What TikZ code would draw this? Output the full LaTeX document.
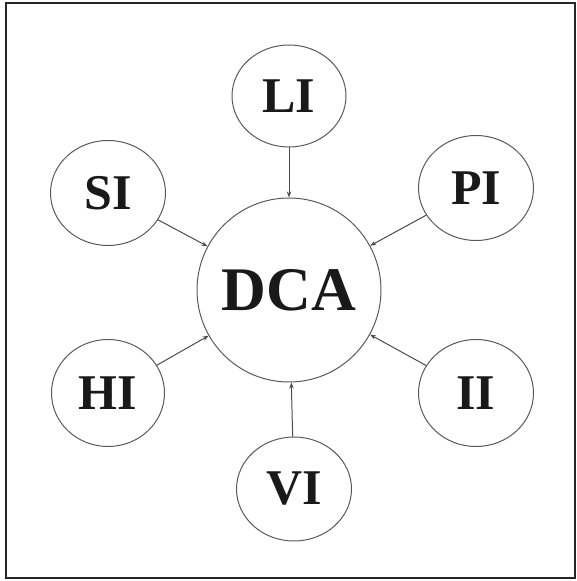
\documentclass[tikz,border=0pt]{standalone}
\usepackage{fontspec}
\setmainfont{Liberation Serif}[BoldFont={Liberation Serif Bold}]
\usetikzlibrary{shapes.geometric,arrows.meta}
\begin{document}
\begin{tikzpicture}[x=1pt,y=1pt,
  sat/.style={draw=black!65,line width=1pt,ellipse,inner sep=0pt,
    font=\fontsize{50}{52}\selectfont\bfseries,text=black!90},
  hub/.style={draw=black!65,line width=1pt,circle,inner sep=0pt,minimum size=184pt,
    font=\fontsize{62}{64}\selectfont\bfseries,text=black!90},
  arr/.style={draw=black!70,line width=1pt,-{Stealth[length=6pt,width=4.5pt]}}]
\useasboundingbox (0,0) rectangle (576,581);
\draw[line width=2.2pt,draw=black!85] (6,3) rectangle (575,578);
\node[hub] (DCA) at (289,291) {DCA};
\node[sat,minimum width=114pt,minimum height=102pt] (LI) at (289,485) {LI};
\node[sat,minimum width=115pt,minimum height=105pt] (SI) at (108,388) {SI};
\node[sat,minimum width=115pt,minimum height=105pt] (PI) at (476,393) {PI};
\node[sat,minimum width=113pt,minimum height=107pt] (HI) at (108,188) {HI};
\node[sat,minimum width=115pt,minimum height=107pt] (II) at (476,188) {II};
\node[sat,minimum width=115pt,minimum height=104pt] (VI) at (294,92) {VI};
\draw[arr] (LI) -- (DCA);
\draw[arr] (SI) -- (DCA);
\draw[arr] (PI) -- (DCA);
\draw[arr] (HI) -- (DCA);
\draw[arr] (II) -- (DCA);
\draw[arr] (VI) -- (DCA);
\end{tikzpicture}
\end{document}
